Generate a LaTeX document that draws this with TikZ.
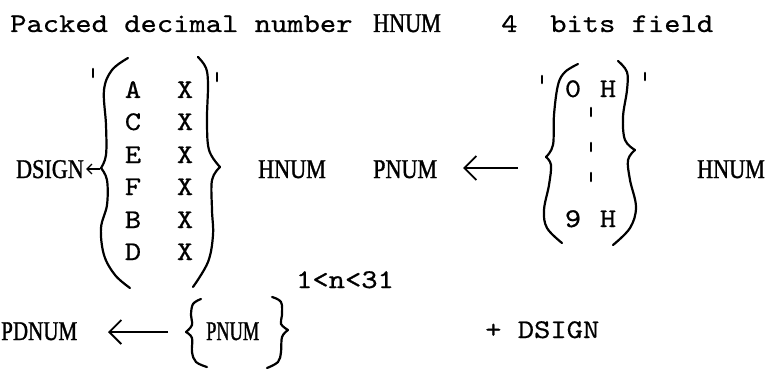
\documentclass[tikz,border=0pt]{standalone}
\usepackage{fontspec}
\usetikzlibrary{arrows.meta}
\newfontfamily\tw{lmmono10-regular.otf}[FakeStretch=1.15,FakeBold=0.6]
\newfontfamily\srf{Liberation Serif}[FakeStretch=0.82,FakeBold=1.2]
\newfontfamily\srfm{Liberation Serif}[FakeStretch=0.78,FakeBold=1.2]
\newfontfamily\srfn{Liberation Serif}[FakeStretch=0.68,FakeBold=1.2]
\begin{document}
\begin{tikzpicture}[x=1pt,y=-1pt,
  mono/.style={inner sep=0pt,font=\tw\fontsize{27}{30}\selectfont},
  serif/.style={inner sep=0pt,font=\srf\fontsize{27}{30}\selectfont},
  serifm/.style={inner sep=0pt,font=\srfm\fontsize{27}{30}\selectfont},
  serifn/.style={inner sep=0pt,font=\srfn\fontsize{27}{30}\selectfont},
  brace/.style={line width=2.2pt,line cap=round,line join=round},
  tick/.style={line width=2.6pt,line cap=round},
  arr/.style={line width=1.8pt,-{Straight Barb[length=12pt,width=24pt]}}]
\useasboundingbox (0,0) rectangle (766,369);
% top line
\node[mono,anchor=base west] (title) at (10,32) {Packed decimal number};
\node[serif,anchor=base west] (thnum) at (373,32) {HNUM};
\node[mono,anchor=base west] (four) at (501,32) {4};
\node[mono,anchor=base west] (bits) at (550,32) {bits field};
% left bracket contents
\foreach \l/\y [count=\i] in {A/98,C/130,E/163,F/195,B/228,D/260}{
  \node[mono,anchor=base] (l\i) at (133,\y) {\l};
  \node[mono,anchor=base] (x\i) at (185,\y) {X};
}
% left bracket shape
\draw[brace] plot[smooth,tension=0.6] coordinates {(128,58) (112,70) (104,90) (106,125) (106,155) (101,168)};
\draw[brace] plot[smooth,tension=0.6] coordinates {(101,168) (107,180) (107,205) (101,228) (104,255) (115,275) (130,288)};
\draw[brace] plot[smooth,tension=0.6] coordinates {(198,57) (206,68) (208,85) (207,120) (209,150) (220,167)};
\draw[brace] plot[smooth,tension=0.6] coordinates {(220,167) (212,180) (212,210) (213,235) (208,262) (193,287)};
\draw[tick] (93,69) -- (93,77);
\draw[tick] (217,73) -- (217,81);
% DSIGN and small arrow
\node[serif,anchor=base east] (dsign) at (84,178) {DSIGN};
\coordinate (sa) at (100,169);
\coordinate (sb) at (86,169);
\draw[line width=1.4pt,-{Straight Barb[length=5pt,width=10pt]}] (sa) -- (sb);
% middle labels
\node[serif,anchor=base west] (hnum) at (258,178) {HNUM};
\node[serif,anchor=base west] (pnum) at (373,178) {PNUM};
\coordinate (ma) at (518,168);
\coordinate (mb) at (463,168);
\draw[arr] (ma) -- (mb);
% right bracket
\draw[brace] plot[smooth,tension=0.6] coordinates {(578,64) (565,72) (558,85) (554,115) (553,145) (546,157)};
\draw[brace] plot[smooth,tension=0.6] coordinates {(546,157) (551,165) (549,185) (544,210) (547,228) (562,243)};
\draw[brace] plot[smooth,tension=0.6] coordinates {(618,61) (627,72) (627,90) (623,117) (625,140) (635,150)};
\draw[brace] plot[smooth,tension=0.6] coordinates {(635,150) (628,160) (630,180) (636,207) (630,228) (613,245)};
\draw[tick] (542,76) -- (542,83);
\draw[tick] (645,73) -- (645,80);
\draw[tick] (591,108) -- (591,116);
\draw[tick] (591,143) -- (591,151);
\draw[tick] (591,173) -- (591,181);
\node[mono,anchor=base] (zero) at (573,97) {0};
\node[mono,anchor=base] (h0) at (608,97) {H};
\node[mono,anchor=base] (nine) at (573,227) {9};
\node[mono,anchor=base] (h9) at (608,227) {H};
\node[serif,anchor=base west] (rhnum) at (697,178) {HNUM};
% bottom line
\node[serifm,anchor=base west] (pdnum) at (1,340) {PDNUM};
\coordinate (ba) at (168,332);
\coordinate (bb) at (108,332);
\draw[arr] (ba) -- (bb);
\draw[brace] plot[smooth,tension=0.6] coordinates {(201,299) (193,304) (191,315) (192,325) (186,332)};
\draw[brace] plot[smooth,tension=0.6] coordinates {(186,332) (192,338) (192,352) (196,362) (207,367)};
\draw[brace] plot[smooth,tension=0.6] coordinates {(272,297) (281,302) (282,315) (281,324) (288,330)};
\draw[brace] plot[smooth,tension=0.6] coordinates {(288,330) (282,337) (281,352) (278,362) (267,368)};
\node[serifn,anchor=base west] (bpnum) at (206,340) {PNUM};
\node[mono,anchor=base] (range) at (345,288) {1<n<31};
\node[mono,anchor=base west] (plus) at (485,338) {+ DSIGN};
\end{tikzpicture}
\end{document}
